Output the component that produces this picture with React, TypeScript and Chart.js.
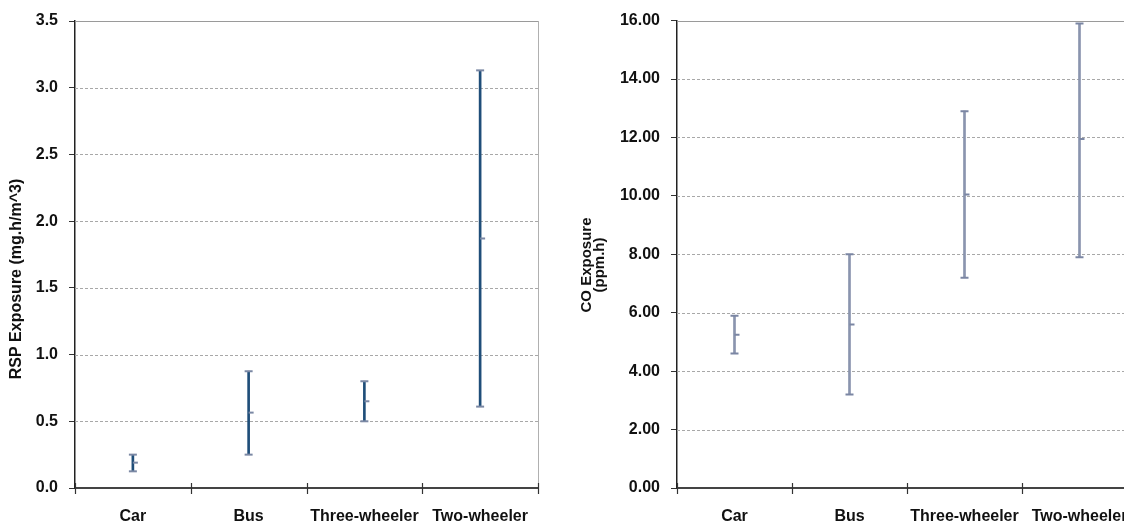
import React, { useEffect, useRef } from "react";
import { Chart, registerables } from "chart.js";

Chart.register(...registerables);

// ---- Data ----
const categories = ["Car", "Bus", "Three-wheeler", "Two-wheeler"];

const rspHigh = [0.25, 0.875, 0.8, 3.13];
const rspLow = [0.125, 0.25, 0.5, 0.61];
const rspMean = [0.19, 0.565, 0.65, 1.87];

const coHigh = [5.9, 8.0, 12.9, 15.9];
const coLow = [4.6, 3.2, 7.2, 7.9];
const coMean = [5.25, 5.6, 10.05, 11.95];

const rspTitle = ["RSP Exposure (mg.h/m^3)"];
const coTitle = ["CO Exposure", "(ppm.h)"];

const FONT = "'Liberation Sans', Arial, Helvetica, sans-serif";

type Spec = {
  high: number[];
  low: number[];
  mean: number[];
  max: number;
  step: number;
  decimals: number;
  lineColor: string;
  capColor: string;
  yWidth: number;
  padRight: number;
  padTop: number;
  xHeight: number;
  title: string[];
  titleX: number[];
  titleY: number;
  titleSize: number;
  width: number;
};

function buildChart(canvas: HTMLCanvasElement, s: Spec) {
  const decorPlugin = {
    id: "decor",
    beforeDatasetsDraw(chart: any) {
      const { ctx, chartArea } = chart;
      const y = chart.scales.y;
      ctx.save();
      y.ticks.forEach((t: any) => {
        if (t.value <= y.min) return;
        const py = Math.round(y.getPixelForValue(t.value)) + 0.5;
        ctx.beginPath();
        if (t.value >= y.max) {
          ctx.setLineDash([]);
          ctx.strokeStyle = "#9a9a9a";
        } else {
          ctx.setLineDash([3, 2]);
          ctx.strokeStyle = "#a8a8a8";
        }
        ctx.lineWidth = 1;
        ctx.moveTo(chartArea.left, py);
        ctx.lineTo(chartArea.right, py);
        ctx.stroke();
      });
      // right border
      ctx.setLineDash([]);
      ctx.strokeStyle = "#b0b0b0";
      ctx.lineWidth = 1;
      ctx.beginPath();
      ctx.moveTo(Math.round(chartArea.right) + 0.5, chartArea.top);
      ctx.lineTo(Math.round(chartArea.right) + 0.5, chartArea.bottom);
      ctx.stroke();
      ctx.restore();
    },
    afterDraw(chart: any) {
      const { ctx, chartArea } = chart;
      const x = chart.scales.x;
      const n = categories.length;
      const half = (x.getPixelForValue(1) - x.getPixelForValue(0)) / 2;
      ctx.save();
      ctx.strokeStyle = "#333";
      ctx.lineWidth = 1.2;
      for (let i = 0; i <= n; i++) {
        const px = Math.round(x.getPixelForValue(i) - half) + 0.5;
        ctx.beginPath();
        ctx.moveTo(px, chartArea.bottom - 5);
        ctx.lineTo(px, chartArea.bottom + 6);
        ctx.stroke();
      }
      // axis title
      ctx.fillStyle = "#111";
      ctx.font = `bold ${s.titleSize}px ${FONT}`;
      ctx.textAlign = "center";
      ctx.textBaseline = "middle";
      s.title.forEach((line, i) => {
        ctx.save();
        ctx.translate(s.titleX[i], s.titleY);
        ctx.rotate(-Math.PI / 2);
        ctx.fillText(line, 0, 0);
        ctx.restore();
      });
      ctx.restore();
    },
  };

  return new Chart(canvas, {
    type: "bar",
    data: {
      labels: categories,
      datasets: [
        {
          type: "line",
          data: s.high,
          showLine: false,
          pointStyle: "line",
          pointRadius: 4,
          pointBorderWidth: 2,
          borderColor: s.capColor,
          backgroundColor: s.capColor,
          order: 0,
        } as any,
        {
          type: "line",
          data: s.low,
          showLine: false,
          pointStyle: "line",
          pointRadius: 4,
          pointBorderWidth: 2,
          borderColor: s.capColor,
          backgroundColor: s.capColor,
          order: 0,
        } as any,
        {
          type: "line",
          data: s.mean,
          showLine: false,
          pointStyle: "dash",
          pointRadius: 5,
          pointBorderWidth: 2,
          borderColor: s.capColor,
          backgroundColor: s.capColor,
          order: 0,
        } as any,
        {
          type: "bar",
          data: s.low.map((l, i) => [l, s.high[i]]),
          backgroundColor: s.lineColor,
          borderWidth: 0,
          barThickness: 2,
          order: 1,
        } as any,
      ],
    },
    options: {
      responsive: false,
      animation: false,
      events: [],
      layout: { padding: { top: s.padTop, right: s.padRight, left: 0, bottom: 0 } },
      plugins: { legend: { display: false }, tooltip: { enabled: false } },
      scales: {
        x: {
          type: "category",
          offset: true,
          grid: { display: false, drawTicks: false },
          border: { display: true, color: "#444", width: 2 },
          ticks: {
            color: "#111",
            font: { family: FONT, size: 16, weight: "bold" },
            padding: 19,
            maxRotation: 0,
            autoSkip: false,
          },
          afterFit(scale: any) {
            scale.height = s.xHeight;
          },
        },
        y: {
          min: 0,
          max: s.max,
          grid: {
            drawOnChartArea: false,
            drawTicks: true,
            tickLength: 6,
            tickColor: "#333",
            color: "#333",
          },
          border: { display: true, color: "#222", width: 1.5 },
          ticks: {
            stepSize: s.step,
            color: "#111",
            padding: 11,
            font: { family: FONT, size: 16, weight: "bold" },
            callback: (v: any) => Number(v).toFixed(s.decimals),
          },
          afterFit(scale: any) {
            scale.width = s.yWidth;
          },
        },
      },
    } as any,
    plugins: [decorPlugin],
  });
}

function ChartBox({ spec, left }: { spec: Spec; left: number }) {
  const ref = useRef<HTMLCanvasElement | null>(null);
  useEffect(() => {
    if (!ref.current) return;
    const c = buildChart(ref.current, spec);
    return () => c.destroy();
  }, [spec]);
  return (
    <canvas
      ref={ref}
      width={spec.width}
      height={525}
      style={{ position: "absolute", left, top: 0, width: spec.width, height: 525 }}
    />
  );
}

const leftSpec: Spec = {
  high: rspHigh,
  low: rspLow,
  mean: rspMean,
  max: 3.5,
  step: 0.5,
  decimals: 1,
  lineColor: "#1f4e79",
  capColor: "#7b88a4",
  yWidth: 75,
  padRight: 22,
  padTop: 21,
  xHeight: 37,
  title: rspTitle,
  titleX: [17],
  titleY: 279,
  titleSize: 16,
  width: 560,
};

const rightSpec: Spec = {
  high: coHigh,
  low: coLow,
  mean: coMean,
  max: 16,
  step: 2,
  decimals: 2,
  lineColor: "#8a94ae",
  capColor: "#7b86a3",
  yWidth: 117,
  padRight: 23,
  padTop: 18,
  xHeight: 37,
  title: coTitle,
  titleX: [27, 40],
  titleY: 265,
  titleSize: 15,
  width: 600,
};

export default function App() {
  return (
    <div
      style={{
        position: "fixed",
        left: 0,
        top: 0,
        width: 1124,
        height: 525,
        overflow: "hidden",
        background: "#fff",
      }}
    >
      <ChartBox spec={leftSpec} left={0} />
      <ChartBox spec={rightSpec} left={560} />
    </div>
  );
}
